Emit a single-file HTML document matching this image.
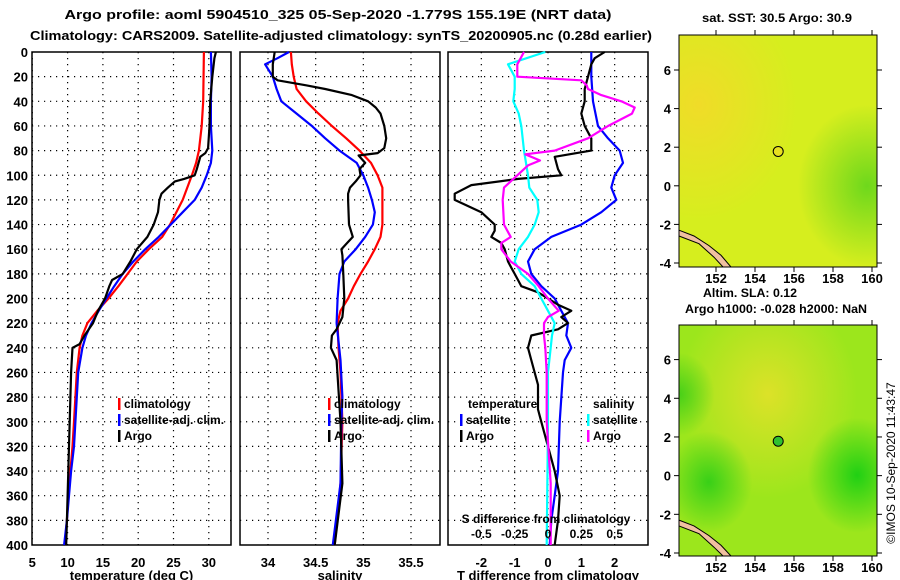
<!DOCTYPE html>
<html><head><meta charset="utf-8"><style>
html,body{margin:0;padding:0;background:#fff;}
svg{display:block;font-family:"Liberation Sans",sans-serif;font-weight:bold;}
</style></head><body>
<svg id="fig" width="900" height="580" viewBox="0 0 900 580" xmlns="http://www.w3.org/2000/svg">
<defs>
<radialGradient id="m1a" cx="0.1" cy="0.3" r="0.5"><stop offset="0" stop-color="#f0dc28"/><stop offset="1" stop-color="#f0dc28" stop-opacity="0"/></radialGradient>
<radialGradient id="m1b" cx="0.95" cy="0.65" r="0.35"><stop offset="0" stop-color="#6ed81c"/><stop offset="1" stop-color="#6ed81c" stop-opacity="0"/></radialGradient>
<radialGradient id="m2a" cx="0.45" cy="0.3" r="0.45"><stop offset="0" stop-color="#dce228"/><stop offset="1" stop-color="#dce228" stop-opacity="0"/></radialGradient>
<radialGradient id="m2b" cx="0.9" cy="0.65" r="0.25"><stop offset="0" stop-color="#20d014"/><stop offset="1" stop-color="#20d014" stop-opacity="0"/></radialGradient>
<radialGradient id="m2c" cx="0.15" cy="0.68" r="0.22"><stop offset="0" stop-color="#38d018"/><stop offset="1" stop-color="#38d018" stop-opacity="0"/></radialGradient>
<radialGradient id="m2d" cx="0.0" cy="0.3" r="0.18"><stop offset="0" stop-color="#48d018"/><stop offset="1" stop-color="#48d018" stop-opacity="0"/></radialGradient>
</defs>
<text x="338" y="19" font-size="13" text-anchor="middle" textLength="547" lengthAdjust="spacingAndGlyphs">Argo profile: aoml 5904510_325 05-Sep-2020 -1.779S 155.19E (NRT data)</text>
<text x="341" y="40" font-size="13" text-anchor="middle" textLength="622" lengthAdjust="spacingAndGlyphs">Climatology: CARS2009. Satellite-adjusted climatology: synTS_20200905.nc (0.28d earlier)</text>
<g id="plots"></g>
</svg>
<script>
// ---------- data ----------
const depthTicks = [0,20,40,60,80,100,120,140,160,180,200,220,240,260,280,300,320,340,360,380,400];
const tempTicks = [5,10,15,20,25,30];
const salTicks = [34,34.5,35,35.5];
const tdiffTicks = [-2,-1,0,1,2];
const sdiffTicks = [-0.5,-0.25,0,0.25,0.5];
const latTicks = [6,4,2,0,-2,-4];
const lonTicks = [152,154,156,158,160];

const climTDepth = [0,40,60,80,90,100,120,140,150,160,170,180,190,200,210,220,230,240,260,280,300,320,340,360,380,400];
const climTVal   = [29.3,29.2,29.0,28.6,28.2,27.6,26.3,24.5,23.4,21.5,19.8,18.5,17.2,15.8,14.2,12.8,12.1,11.7,11.3,11.1,10.9,10.7,10.4,10.1,9.9,9.6];
const satTDepth = [0,20,40,60,80,90,100,110,120,130,140,150,160,170,180,190,200,210,220,230,240,260,280,300,320,340,360,380,400];
const satTVal   = [30.3,30.4,30.3,30.3,30.5,30.3,29.7,29.0,28.0,26.3,24.6,22.9,21.0,19.3,17.8,16.6,15.5,14.4,13.4,12.6,12.1,11.5,11.3,11.1,10.9,10.5,10.2,9.9,9.5];
const argoTDepth = [0,5,20,40,60,78,82,85,95,100,103,105,110,115,120,130,140,150,160,170,180,185,190,200,210,220,225,230,237,240,250,260,300,320,340,360,380,400];
const argoTVal   = [31.0,30.8,30.5,30.2,30.1,29.9,29.5,28.8,28.3,28.0,26.5,25.2,24.2,23.3,23.0,22.8,22.2,21.3,19.8,18.9,17.8,16.3,15.9,15.3,14.3,13.6,13.0,12.4,11.7,10.7,10.6,10.5,10.3,10.2,10.1,10.0,9.9,9.8];

const climSDepth = [0,10,20,30,40,50,60,70,80,90,100,110,120,140,150,160,170,180,190,200,210,220,240,260,300,350,400];
const climSVal   = [34.24,34.25,34.27,34.3,34.4,34.53,34.67,34.82,34.96,35.08,35.15,35.2,35.2,35.2,35.18,35.12,35.05,34.97,34.9,34.84,34.76,34.73,34.74,34.76,34.78,34.76,34.7];
const satSDepth = [0,5,10,20,30,40,50,60,70,80,90,100,110,120,130,140,150,160,170,180,200,220,250,280,300,350,400];
const satSVal   = [34.22,34.1,33.97,34.05,34.09,34.14,34.3,34.46,34.6,34.75,34.93,35.0,35.05,35.09,35.12,35.1,35.02,34.92,34.8,34.75,34.73,34.72,34.76,34.78,34.77,34.76,34.68];
const argoSDepth = [0,10,20,23,27,30,35,40,45,50,60,70,78,82,84,90,95,100,105,110,115,120,140,150,155,160,165,180,200,215,225,230,240,250,300,350,400];
const argoSVal   = [34.07,34.05,34.05,34.1,34.4,34.6,34.88,35.05,35.13,35.18,35.22,35.24,35.22,35.15,34.95,35.02,34.96,34.97,34.92,34.86,34.84,34.84,34.85,34.89,34.83,34.77,34.78,34.79,34.8,34.78,34.72,34.67,34.66,34.72,34.76,34.78,34.7];

const satDTDepth = [0,20,40,60,70,80,90,100,110,120,130,140,150,160,170,180,190,200,210,220,230,240,250,260,300,340,360,380,400];
const satDTVal   = [1.3,1.3,1.35,1.5,1.8,2.15,2.25,2.0,1.9,2.05,1.6,1.0,0.1,-0.4,-0.6,-0.5,-0.2,0.2,0.4,0.6,0.55,0.7,0.5,0.45,0.35,0.3,0.2,0.1,0.05];
const argoDTDepth = [0,5,10,20,30,40,50,60,70,80,85,95,100,103,108,115,120,130,140,145,150,155,160,170,175,180,185,190,195,205,210,215,220,225,230,240,250,270,290,300,320,340,360,380,400];
const argoDTVal   = [1.7,1.4,1.3,1.2,1.1,1.1,1.0,1.1,1.3,1.3,0.2,0.3,0.4,-0.9,-2.3,-2.8,-2.8,-2.0,-1.6,-1.6,-1.7,-1.4,-1.3,-1.2,-1.1,-1.0,-0.9,-0.8,-0.3,0.3,0.7,0.4,0.6,0.3,-0.5,-0.6,-0.5,-0.3,-0.3,-0.2,0.0,0.2,0.35,0.3,0.2];
const satDSDepth = [0,10,20,30,40,50,60,80,100,110,120,130,140,150,160,170,180,190,200,210,220,230,240,260,300,400];
const satDSVal   = [-0.02,-0.3,-0.25,-0.25,-0.26,-0.22,-0.2,-0.18,-0.15,-0.14,-0.08,-0.07,-0.1,-0.15,-0.22,-0.25,-0.2,-0.1,-0.05,0.0,0.05,0.03,0.02,0.0,0.0,-0.01];
const argoDSDepth = [0,10,20,23,27,30,35,40,45,50,60,70,80,83,88,92,100,110,120,140,150,155,160,170,180,190,200,210,215,220,230,240,260,300,350,400];
const argoDSVal   = [-0.18,-0.23,-0.23,0.25,0.29,0.3,0.4,0.55,0.65,0.63,0.45,0.3,0.05,-0.17,-0.06,-0.15,-0.23,-0.33,-0.34,-0.33,-0.28,-0.35,-0.35,-0.28,-0.15,-0.07,0.0,0.08,0.0,-0.03,-0.03,-0.02,-0.01,-0.01,0.02,0.02];

const floatLon = [155.19];
const floatLat = [1.78];

// ---------- helpers ----------
const NS = "http://www.w3.org/2000/svg";
const root = document.getElementById('plots');
function el(tag, attrs, parent){
  const e = document.createElementNS(NS, tag);
  for (const k in attrs) e.setAttribute(k, attrs[k]);
  (parent||root).appendChild(e);
  return e;
}
const yTop = 52, yBot = 545;
function yD(d){ return yTop + d*(yBot-yTop)/400; }
function lin(d0,d1,r0,r1){ return v => r0 + (v-d0)*(r1-r0)/(d1-d0); }

function panel(name, x0, x1, xScale, ticks, tickFmt, xlabel, showDepth){
  const g = el('g', {});
  
  
  for (const t of ticks){
    const ln = el('line', {x1:xScale(t), x2:xScale(t), y1:yTop, y2:yBot, stroke:'#000', 'stroke-width':1.2, 'stroke-dasharray':'1.2 4.8'}, g);
    
    
    const tx = el('text', {x:xScale(t), y:567, 'font-size':13, 'text-anchor':'middle'}, g);
    
    
    tx.textContent = tickFmt(t);
  }
  for (const d of depthTicks){
    if (d>0 && d<400){
      const ln = el('line', {x1:x0, x2:x1, y1:yD(d), y2:yD(d), stroke:'#000', 'stroke-width':1.2, 'stroke-dasharray':'1.2 4.8'}, g);
      
      
    }
    if (showDepth){
      const tx = el('text', {x:28, y:yD(d)+5, 'font-size':13, 'text-anchor':'end'}, g);
      
      
      tx.textContent = d;
    }
  }
  const fr = el('rect', {x:x0, y:yTop, width:x1-x0, height:yBot-yTop, fill:'none', stroke:'#000', 'stroke-width':1.5}, g);
  
  
  const xl = el('text', {x:(x0+x1)/2, y:580, 'font-size':13, 'text-anchor':'middle'}, g);
  
  
  xl.textContent = xlabel;
  return g;
}
function series(name, depths, vals, xScale, color, g){
  const pts = depths.map((d,i)=> xScale(vals[i]).toFixed(1)+','+yD(d).toFixed(1)).join(' ');
  const p = el('polyline', {points:pts, fill:'none', stroke:color, 'stroke-width':2.2, 'stroke-linejoin':'round'}, g);
  
  
}
function legend(g, x, y, color, label, name){
  const r = el('rect', {x:x, y:y-10, width:2.5, height:12, fill:color}, g);
  
  
  const t = el('text', {x:x+6, y:y, 'font-size':12}, g);
  
  
  t.textContent = label;
}

// ---------- panel 1: temperature ----------
const xT = lin(5, 30, 32.3, 208.8);
const g1 = panel('temperature-panel', 32, 231, xT, tempTicks, t=>t, 'temperature (deg C)', true);
series('climatology-temperature-line', climTDepth, climTVal, xT, '#f00', g1);
series('satellite-temperature-line', satTDepth, satTVal, xT, '#00f', g1);
series('argo-temperature-line', argoTDepth, argoTVal, xT, '#000', g1);
legend(g1, 118, 408, '#f00', 'climatology', 'legend-climatology');
legend(g1, 118, 424, '#00f', 'satellite-adj. clim.', 'legend-satellite');
legend(g1, 118, 440, '#000', 'Argo', 'legend-argo');

// ---------- panel 2: salinity ----------
const xS = lin(34, 35.5, 268, 411);
const g2 = panel('salinity-panel', 240, 440, xS, salTicks, t=>t, 'salinity', false);
series('climatology-salinity-line', climSDepth, climSVal, xS, '#f00', g2);
series('satellite-salinity-line', satSDepth, satSVal, xS, '#00f', g2);
series('argo-salinity-line', argoSDepth, argoSVal, xS, '#000', g2);
legend(g2, 328, 408, '#f00', 'climatology', 'legend-climatology-s');
legend(g2, 328, 424, '#00f', 'satellite-adj. clim.', 'legend-satellite-s');
legend(g2, 328, 440, '#000', 'Argo', 'legend-argo-s');

// ---------- panel 3: differences ----------
const xDT = lin(-3, 3, 448, 648);
const xDS = v => xDT(v*4);
const g3 = panel('difference-panel', 448, 648, xDT, tdiffTicks, t=>t, 'T difference from climatology', false);
series('satellite-t-diff-line', satDTDepth, satDTVal, xDT, '#00f', g3);
series('argo-t-diff-line', argoDTDepth, argoDTVal, xDT, '#000', g3);
series('satellite-s-diff-line', satDSDepth, satDSVal, xDS, '#0ff', g3);
series('argo-s-diff-line', argoDSDepth, argoDSVal, xDS, '#f0f', g3);
{
  const t1 = el('text', {x:468, y:408, 'font-size':12}, g3); t1.textContent='temperature';
   
  const t2 = el('text', {x:593, y:408, 'font-size':12}, g3); t2.textContent='salinity';
   
  legend(g3, 460, 424, '#00f', 'satellite', 'legend-t-satellite');
  legend(g3, 460, 440, '#000', 'Argo', 'legend-t-argo');
  legend(g3, 587, 424, '#0ff', 'satellite', 'legend-s-satellite');
  legend(g3, 587, 440, '#f0f', 'Argo', 'legend-s-argo');
  const t3 = el('text', {x:546, y:523, 'font-size':12, 'text-anchor':'middle'}, g3); t3.textContent='S difference from climatology';
   
  for (const s of sdiffTicks){
    const t = el('text', {x:xDS(s), y:538, 'font-size':12, 'text-anchor':'middle'}, g3);
     
    t.textContent = s;
  }
}

// ---------- maps ----------
function map(name, top, bottom, lat6y, latm4y, grads, base, markerFill, lonLabelY){
  const g = el('g', {});
  
  
  const x0 = 679, x1 = 877;
  const xL = lin(152, 160, 716, 872);
  const yL = lin(6, -4, lat6y, latm4y);
  const bg = el('rect', {x:x0, y:top, width:x1-x0, height:bottom-top, fill:base}, g);
   
  for (const gr of grads){
    const r = el('rect', {x:x0, y:top, width:x1-x0, height:bottom-top, fill:'url(#'+gr+')'}, g);
     
  }
  const land = el('polygon', {points:`${x0},${yL(-2.3)} ${x0+15},${yL(-2.6)} ${x0+30},${yL(-3.1)} ${x0+42},${yL(-3.6)} ${x0+52},${bottom} ${x0+44},${bottom} ${x0+35},${yL(-3.7)} ${x0+20},${yL(-3.0)} ${x0},${yL(-2.6)}`, fill:'#f0c0a0', stroke:'#000', 'stroke-width':1}, g);
   
  const fr = el('rect', {x:x0, y:top, width:x1-x0, height:bottom-top, fill:'none', stroke:'#000', 'stroke-width':1}, g);
   
  for (const la of latTicks){
    const t = el('text', {x:x0-8, y:yL(la)+5, 'font-size':13, 'text-anchor':'end'}, g);
     
    t.textContent = la;
    el('line', {x1:x0-5, x2:x0, y1:yL(la), y2:yL(la), stroke:'#000'}, g);
    el('line', {x1:x1, x2:x1+5, y1:yL(la), y2:yL(la), stroke:'#000'}, g);
  }
  for (const lo of lonTicks){
    const t = el('text', {x:xL(lo), y:lonLabelY, 'font-size':13, 'text-anchor':'middle'}, g);
     
    t.textContent = lo;
    el('line', {x1:xL(lo), x2:xL(lo), y1:bottom, y2:bottom+5, stroke:'#000'}, g);
    el('line', {x1:xL(lo), x2:xL(lo), y1:top-5, y2:top, stroke:'#000'}, g);
  }
  const c = el('circle', {cx:xL(floatLon[0]), cy:yL(floatLat[0]), r:5, fill:markerFill, stroke:'#000', 'stroke-width':1}, g);
   
}
map('sst-map', 35, 267, 70, 263, ['m1a','m1b'], '#d6ee1e', '#e8e020', 283);
map('sla-map', 325, 556, 359.6, 553, ['m2a','m2b','m2c','m2d'], '#9ce61c', '#30c030', 572);

function txt(x,y,s,name,size,len){
  const t = el('text', {x:x, y:y, 'font-size':size, 'text-anchor':'middle', textLength:len, lengthAdjust:'spacingAndGlyphs'});
  
  
  t.textContent = s;
}
txt(777, 22, 'sat. SST: 30.5 Argo: 30.9', 'sst-map-title', 12, 150);
txt(750, 297, 'Altim. SLA: 0.12', 'sla-map-title', 12, 94);
txt(776, 313, 'Argo h1000: -0.028 h2000: NaN', 'steric-height-title', 12, 182);
const cp = el('text', {x:0, y:0, 'font-size':12, 'font-weight':'normal', 'text-anchor':'middle', transform:'translate(895,463) rotate(-90)'});


cp.textContent = '©IMOS 10-Sep-2020 11:43:47';
</script>
</body></html>
